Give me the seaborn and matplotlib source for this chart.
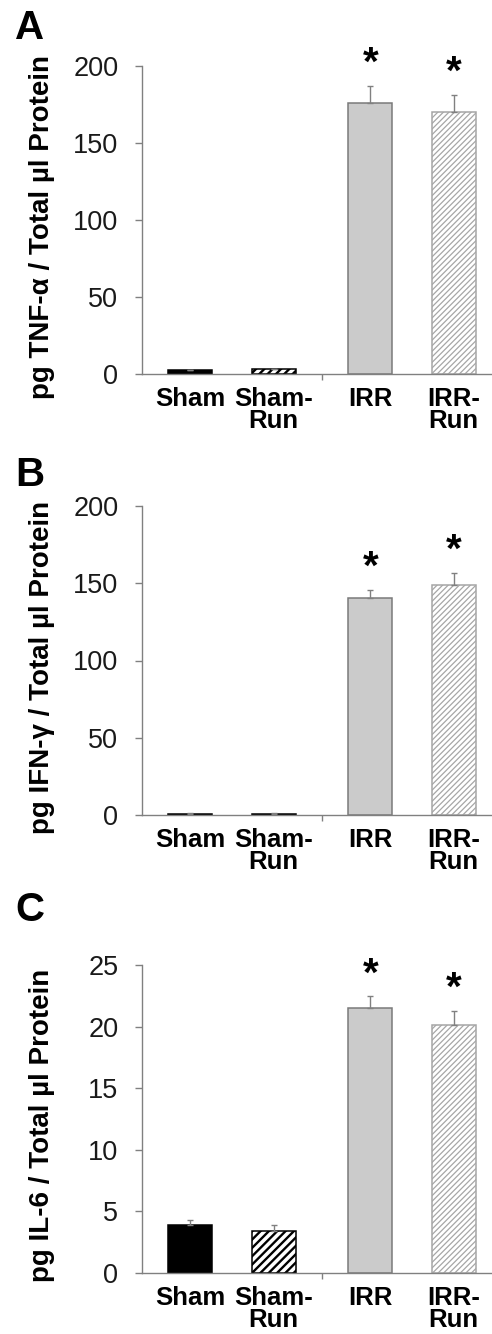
import numpy as np
import pandas as pd
import matplotlib
matplotlib.use("Agg")
import matplotlib.pyplot as plt
from matplotlib.ticker import FixedLocator
import seaborn as sns

# ---------------- data ----------------
groups = ["Sham", "Sham", "IRR", "IRR"]
runs = ["Sedentary", "Run", "Sedentary", "Run"]
bar_labels = ["Sham", "Sham-\nRun", "IRR", "IRR-\nRun"]

tnf_mean = [2.5, 3.0, 176.0, 170.0]
tnf_sem = [0.3, 0.5, 11.0, 11.0]
ifn_mean = [0.8, 0.8, 140.5, 149.0]
ifn_sem = [0.2, 0.3, 5.0, 7.5]
il6_mean = [3.87, 3.44, 21.5, 20.13]
il6_sem = [0.44, 0.49, 0.95, 1.15]
significant = [False, False, True, True]

panel_letters = ["A", "B", "C"]
ylabels = ["pg TNF-α / Total µl Protein",
           "pg IFN-γ / Total µl Protein",
           "pg IL-6 / Total µl Protein"]
yticks_list = [[0, 50, 100, 150, 200],
               [0, 50, 100, 150, 200],
               [0, 5, 10, 15, 20, 25]]
means = [tnf_mean, ifn_mean, il6_mean]
sems = [tnf_sem, ifn_sem, il6_sem]

# ---------------- style ----------------
sns.set_theme(style="ticks")
plt.rcParams["font.family"] = ["Liberation Sans", "DejaVu Sans"]
plt.rcParams["hatch.linewidth"] = 1.2

bar_styles = [
    dict(fc="black", ec="black", hatch=None, hlw=None),
    dict(fc="white", ec="black", hatch="////", hlw=1.7),
    dict(fc="#cbcbcb", ec="#7a7a7a", hatch=None, hlw=None),
    dict(fc="white", ec="#a6a6a6", hatch="//////", hlw=0.9),
]
axis_gray = "#808080"

fig = plt.figure(figsize=(4.92, 13.34), dpi=100)
W, H = 492.0, 1334.0
# axes boxes in pixels: (left, top, bottom)
ax_px = [(142, 66, 374), (142, 506, 815), (142, 965, 1273)]
ax_width_px = 360
letter_tops = [9, 456, 891]

for i in range(3):
    left, top, bottom = ax_px[i]
    ax = fig.add_axes([left / W, 1 - bottom / H, ax_width_px / W, (bottom - top) / H])
    df = pd.DataFrame({"group": groups, "run": runs, "value": means[i]})
    sns.barplot(data=df, x="group", y="value", hue="run", order=["Sham", "IRR"],
                hue_order=["Sedentary", "Run"], palette=["black", "white"],
                width=0.928, gap=0.474, errorbar=None, legend=False, ax=ax)

    patches = sorted(ax.patches, key=lambda p: p.get_x())
    centers = []
    for p, st in zip(patches, bar_styles):
        p.set_facecolor(st["fc"])
        p.set_edgecolor(st["ec"])
        p.set_linewidth(1.1)
        if st["hatch"]:
            p.set_hatch(st["hatch"])
            if st["hlw"] is not None and hasattr(p, "set_hatch_linewidth"):
                p.set_hatch_linewidth(st["hlw"])
        centers.append(p.get_x() + p.get_width() / 2)

    m = np.array(means[i])
    s = np.array(sems[i])
    ax.errorbar(centers, m, yerr=[np.zeros_like(s), s], fmt="none",
                ecolor=axis_gray, elinewidth=1.0, capsize=2.5, capthick=1.0, zorder=3)

    for c, mv, sv, sig in zip(centers, m, s, significant):
        if sig:
            ax.annotate("*", xy=(c, mv + sv), xytext=(0, 8), textcoords="offset points",
                        ha="center", va="baseline", fontsize=29, fontweight="bold",
                        color="black", annotation_clip=False)

    yt = yticks_list[i]
    ax.set_ylim(yt[0], yt[-1])
    ax.set_xlim(-0.5, 1.5)
    ax.set_yticks(yt)
    ax.set_yticklabels([str(v) for v in yt])
    ax.tick_params(axis="y", length=5, width=1.0, color=axis_gray, pad=12,
                   labelsize=19.5, labelcolor="#1a1a1a", direction="out")

    ax.set_xticks(centers)
    ax.set_xticklabels(bar_labels, fontsize=18.5, fontweight="bold", linespacing=0.9)
    ax.tick_params(axis="x", which="major", length=0, pad=9.5, labelcolor="black")
    ax.xaxis.set_minor_locator(FixedLocator([0.5]))
    ax.tick_params(axis="x", which="minor", length=4.5, width=1.0,
                   color=axis_gray, direction="out")

    for side in ["top", "right"]:
        ax.spines[side].set_visible(False)
    for side in ["left", "bottom"]:
        ax.spines[side].set_color(axis_gray)
        ax.spines[side].set_linewidth(1.0)

    ax.set_xlabel("")
    ax.set_ylabel(ylabels[i], fontsize=20, fontweight="bold", color="black")
    ax.yaxis.label.set_va("center")
    ax.yaxis.set_label_coords((42 - left) / ax_width_px, 0.478)

    fig.text(15 / W, 1 - letter_tops[i] / H, panel_letters[i], ha="left", va="top",
             fontsize=29, fontweight="bold", color="black")

fig.savefig("out.png", dpi=100)
